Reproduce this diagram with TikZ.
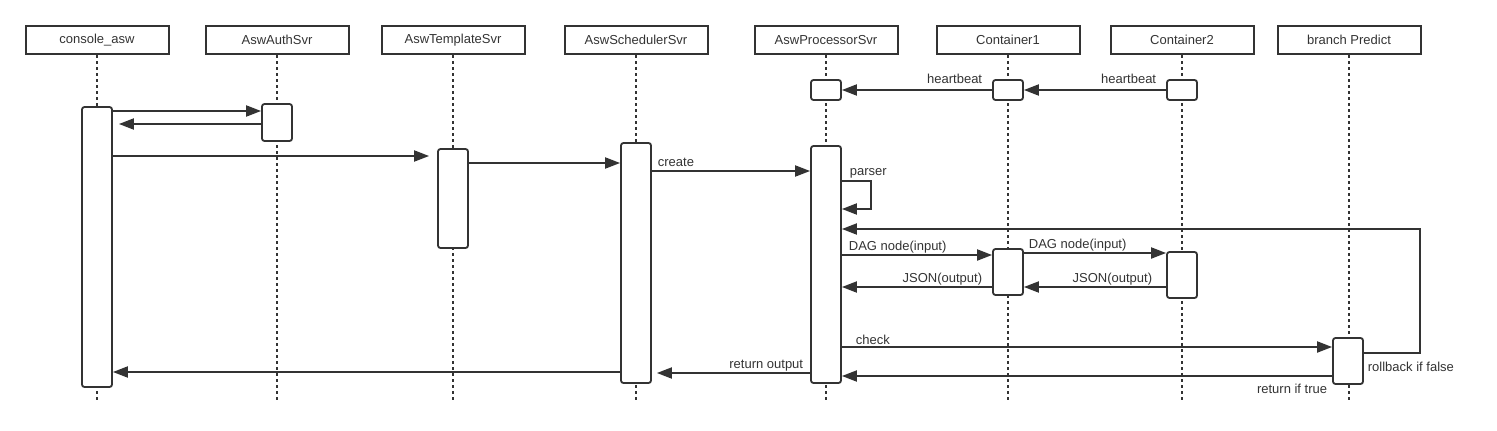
\documentclass[tikz,border=0pt]{standalone}
\usepackage{fontspec}
\setmainfont{Liberation Sans}
\usetikzlibrary{arrows.meta}
\usetikzlibrary{calc}

\begin{document}
\begin{tikzpicture}[x=1pt, y=-1pt]
        % ================= styles =================
        \tikzset{
            % participant box on top
            head/.style={draw=black!80, line width=2pt, minimum width=143pt, minimum height=28pt, inner sep=0pt, font=\fontsize{13}{15}\selectfont, text=black!80},
            % activation bar
            actbar/.style={draw=black!80, line width=1.8pt, fill=white, rounded corners=2.5pt, minimum width=30pt, inner sep=0pt},
            % dotted life line
            lifeline/.style={line width=2pt, black!80, dash pattern=on 3pt off 3pt},
            % message arrow
            msg/.style={line width=2pt, black!80, -{Triangle[length=15pt,width=11pt]}},
            lbl/.style={font=\fontsize{13}{15}\selectfont, text=black!80, inner sep=1pt}
        }
        \useasboundingbox (0,0) rectangle (1497,431);

        % ================= participants and life lines =================
        \foreach \n/\x/\t in {console/97/console\_asw, auth/277/AswAuthSvr, tmpl/453/AswTemplateSvr,
                              sched/636/AswSchedulerSvr, proc/826/AswProcessorSvr, contA/1008/Container1,
                              contB/1182/Container2, pred/1349/branch Predict} {
            \node[head] (\n) at (\x,40) {\t};
            \draw[lifeline] (\n.south) -- (\n.south |- 0,401);
        }

        % ================= activation bars =================
        \node[actbar, minimum height=280pt] (aConsole) at (97,247) {};
        \node[actbar, minimum height=37pt] (aAuth) at (277,122.5) {};
        \node[actbar, minimum height=99pt] (aTmpl) at (453,198.5) {};
        \node[actbar, minimum height=240pt] (aSched) at (636,263) {};
        \node[actbar, minimum height=237pt] (aProc) at (826,264.5) {};
        \node[actbar, minimum height=20pt] (hbProc) at (826,90) {};
        \node[actbar, minimum height=20pt] (hbContA) at (1008,90) {};
        \node[actbar, minimum height=20pt] (hbContB) at (1182,90) {};
        \node[actbar, minimum height=46pt] (aContA) at (1008,272) {};
        \node[actbar, minimum height=46pt] (aContB) at (1182,275) {};
        \node[actbar, minimum height=46pt] (aPred) at (1348,361) {};

        % ================= heartbeat =================
        \draw[msg] (hbContA.west) -- node[lbl, pos=0, anchor=south east, xshift=-8pt, yshift=4pt] {heartbeat} (hbProc.east);
        \draw[msg] (hbContB.west) -- node[lbl, pos=0, anchor=south east, xshift=-8pt, yshift=4pt] {heartbeat} (hbContA.east);

        % ================= request chain =================
        \draw[msg] (aConsole.east |- 0,111) -- (aAuth.west |- 0,111);
        \draw[msg, shorten >=6pt] (aAuth.west |- 0,124) -- (aConsole.east |- 0,124);
        \draw[msg, shorten >=8pt] (aConsole.east |- 0,156) -- (aTmpl.west |- 0,156);
        \draw[msg] (aTmpl.east |- 0,163) -- (aSched.west |- 0,163);
        \draw[msg] (aSched.east |- 0,171) -- node[lbl, pos=0, anchor=south west, xshift=4pt, yshift=2pt] {create} (aProc.west |- 0,171);

        % parser self call
        \draw[msg] (aProc.east |- 0,181) -- node[lbl, pos=0, anchor=south west, xshift=6pt, yshift=1pt] {parser} ++(29,0) -- ++(0,28) -- (aProc.east |- 0,209);

        % ================= DAG execution =================
        \draw[msg] (aProc.east |- 0,255) -- node[lbl, pos=0, anchor=south west, xshift=5pt] {DAG node(input)} (aContA.west |- 0,255);
        \draw[msg] (aContA.east |- 0,253) -- node[lbl, pos=0, anchor=south west, xshift=3pt] {DAG node(input)} (aContB.west |- 0,253);
        \draw[msg] (aContA.west |- 0,287) -- node[lbl, pos=0, anchor=south east, xshift=-8pt] {JSON(output)} (aProc.east |- 0,287);
        \draw[msg] (aContB.west |- 0,287) -- node[lbl, pos=0, anchor=south east, xshift=-12pt] {JSON(output)} (aContA.east |- 0,287);

        % ================= predict =================
        \draw[msg] (aProc.east |- 0,347) -- node[lbl, pos=0, anchor=south west, xshift=12pt] {check} (aPred.west |- 0,347);
        \draw[msg] (aPred.east |- 0,353) -- node[lbl, pos=0, anchor=north west, xshift=2pt, yshift=-7pt] {rollback if false} ++(56,0) |- (aProc.east |- 0,229);
        \draw[msg] (aPred.west |- 0,376) -- node[lbl, pos=0, anchor=north east, xshift=-3pt, yshift=-6pt] {return if true} (aProc.east |- 0,376);

        % ================= return =================
        \draw[msg, shorten >=5pt] (aProc.west |- 0,373) -- node[lbl, pos=0, anchor=south east, xshift=-5pt] {return output} (aSched.east |- 0,373);
        \draw[msg] (aSched.west |- 0,372) -- (aConsole.east |- 0,372);

    \end{tikzpicture}
\end{document}
